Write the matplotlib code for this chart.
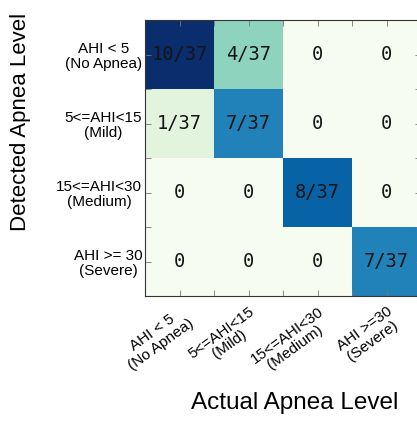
import numpy as np
import matplotlib
matplotlib.use("Agg")
import matplotlib.pyplot as plt
from matplotlib.colors import LinearSegmentedColormap
from matplotlib.transforms import ScaledTranslation

detected_labels = ["AHI < 5\n(No Apnea)", "5<=AHI<15\n(Mild)", "15<=AHI<30\n(Medium)", "AHI >= 30\n(Severe)"]
actual_labels = ["AHI < 5\n(No Apnea)", "5<=AHI<15\n(Mild)", "15<=AHI<30\n(Medium)", "AHI >=30\n(Severe)"]
counts = [[10, 4, 0, 0],
          [1, 7, 0, 0],
          [0, 0, 8, 0],
          [0, 0, 0, 7]]
total = 37

plt.rcParams['font.family'] = ['Liberation Sans', 'DejaVu Sans']
fig = plt.figure(figsize=(4.17, 4.22), dpi=100)
ax = fig.add_axes([145/417, (422-296)/422, 276/417, 276/422])

gnbu = plt.get_cmap('GnBu')
stops = [(0.9 * t, gnbu(t)) for t in np.linspace(0, 1, 9)] + [(1.0, '#0a2d6e')]
cmap = LinearSegmentedColormap.from_list('gnbu_ext', stops)

m = np.array(counts, dtype=float)
ax.imshow(m, cmap=cmap, vmin=0, vmax=10, aspect='auto', interpolation='nearest')

for i in range(4):
    for j in range(4):
        v = counts[i][j]
        s = f"{v}/{total}" if v else "0"
        ax.text(j, i, s, ha='center', va='center', fontsize=13.5,
                family='DejaVu Sans Mono', color='#151515')

ax.set_xticks(range(4))
ax.set_yticks(range(4))
ax.set_xticks(np.arange(-0.5, 4, 1), minor=True)
ax.set_yticks(np.arange(-0.5, 4, 1), minor=True)
ax.set_yticklabels(detected_labels, fontsize=11, multialignment='center', linespacing=1.05)
ax.set_xticklabels(actual_labels, fontsize=11, rotation=36, ha='right', va='top',
                   rotation_mode='anchor', multialignment='center', linespacing=1.05)
off = ScaledTranslation(4/72, 0, fig.dpi_scale_trans)
for lbl in ax.get_xticklabels():
    lbl.set_transform(lbl.get_transform() + off)
ax.tick_params(which='both', direction='in', length=4, width=0.6, color='#777777',
               top=True, right=True)
ax.tick_params(axis='y', pad=2)
ax.tick_params(axis='x', pad=6)
for sp in ax.spines.values():
    sp.set_linewidth(0.8)
    sp.set_color('#333333')

fig.text(21/417, 1-122/422, "Detected Apnea Level", rotation=90, ha='center', va='center', fontsize=16)
fig.text(295/417, 1-403/422, "Actual Apnea Level", ha='center', va='center', fontsize=17.5)

fig.savefig("out.png", dpi=100)
